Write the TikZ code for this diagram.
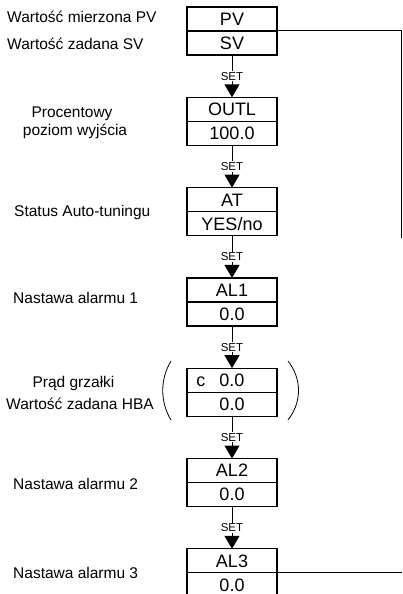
\documentclass[tikz,border=0pt]{standalone}
\usepackage{fontspec}
\setmainfont{Liberation Sans}
\usetikzlibrary{arrows.meta, positioning}
\tikzset{
	disp/.style={rectangle, draw=black, line width=1.2pt, minimum width=90pt, minimum height=24pt, inner sep=0pt, outer sep=0pt, text height=12.9pt, text depth=0pt, font=\fontsize{18}{20}\selectfont},
	lbl/.style={inner sep=0pt, font=\fontsize{15.5}{18}\selectfont},
	setflow/.style={-{Triangle[length=13pt, width=15pt]}, line width=1pt},
	setlbl/.style={fill=white, inner sep=1pt, pos=0.5, font=\fontsize{11.5}{13}\selectfont},
	% lines out to the right edge
	sideline/.style={line width=1pt},
	paren/.style={line width=0.8pt},
}

\begin{document}
\begin{tikzpicture}[x=1pt, y=-1pt]
	\useasboundingbox (0,0) rectangle (402,594);
	% display boxes
	\node[disp, anchor=north] (pv) at (232,7) {PV};
	\node[disp, below=0pt of pv] (sv) {SV};
	\node[disp, below=42.3pt of sv] (outl) {OUTL};
	\node[disp, below=0pt of outl] (outlval) {100.0};
	\node[disp, below=42.3pt of outlval] (at) {AT};
	\node[disp, below=0pt of at] (atval) {YES/no};
	\node[disp, below=42.3pt of atval] (al1) {AL1};
	\node[disp, below=0pt of al1] (al1val) {0.0};
	\node[disp, below=42.3pt of al1val] (hb) {\llap{c\hspace{14pt}}0.0};
	\node[disp, below=0pt of hb] (hbval) {0.0};
	\node[disp, below=42.3pt of hbval] (al2) {AL2};
	\node[disp, below=0pt of al2] (al2val) {0.0};
	\node[disp, below=42.3pt of al2val] (al3) {AL3};
	\node[disp, below=0pt of al3] (al3val) {0.0};
	\draw[setflow] (sv) -- node[setlbl]{SET} (outl);
	\draw[setflow] (outlval) -- node[setlbl]{SET} (at);
	\draw[setflow] (atval) -- node[setlbl]{SET} (al1);
	\draw[setflow] (al1val) -- node[setlbl]{SET} (hb);
	\draw[setflow] (hbval) -- node[setlbl]{SET} (al2);
	\draw[setflow] (al2val) -- node[setlbl]{SET} (al3);
	% brackets round the heater current box
	\draw[paren] (171,361) .. controls (160,379) and (160,402) .. (171,420);
	\draw[paren] (288,361) .. controls (302,379) and (302,402) .. (288,420);
	% labels
	\node[lbl, anchor=base west] (pvlbl) at (7,23) {Wartość mierzona PV};
	\node[lbl, anchor=base west] (svlbl) at (7,49) {Wartość zadana SV};
	\node[lbl, anchor=base] (outllbl) at (72,117) {Procentowy};
	\node[lbl, anchor=base] (outllbl2) at (75,135) {poziom wyjścia};
	\node[lbl, anchor=base west] (atlbl) at (14,216) {Status Auto-tuningu};
	\node[lbl, anchor=base west] (al1lbl) at (13,303) {Nastawa alarmu 1};
	\node[lbl, anchor=base] (hblbl) at (73.5,387) {Prąd grzałki};
	\node[lbl, anchor=base] (hblbl2) at (80,409) {Wartość zadana HBA};
	\node[lbl, anchor=base west] (al2lbl) at (13,489) {Nastawa alarmu 2};
	\node[lbl, anchor=base west] (al3lbl) at (13,578) {Nastawa alarmu 3};
	% return lines
	\coordinate (rtend) at (401,238);
	\coordinate (edger) at (402,0);
	\draw[sideline] (pv.south east) -| (rtend);
	\draw[sideline] (al3.south east) -- (al3.south east -| edger);
\end{tikzpicture}
\end{document}
